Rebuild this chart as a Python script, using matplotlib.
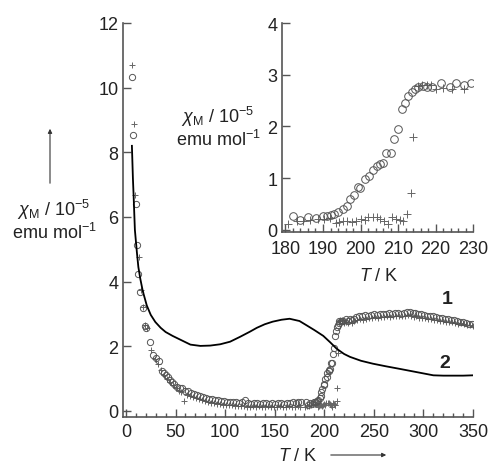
import numpy as np
import matplotlib
matplotlib.use("Agg")
import matplotlib.pyplot as plt
from matplotlib.ticker import MultipleLocator

plt.rcParams['font.family'] = ['Liberation Sans', 'DejaVu Sans']
plt.rcParams['mathtext.fontset'] = 'custom'
plt.rcParams['mathtext.rm'] = 'Liberation Sans'
plt.rcParams['mathtext.it'] = 'Liberation Sans:italic'

# ---------------- data ----------------
# compound 2 (solid line)
line_T = [6, 7, 7.7, 9, 11, 12.5, 14.5, 17, 21, 25, 29.6, 35, 40, 47, 53, 65, 75, 85, 95,
          105, 115, 125, 132, 140, 148, 157, 165, 175, 182, 190, 199, 206, 212.6, 220, 226,
          237, 249, 262, 276, 293, 310, 320, 330, 340, 350]
line_chi = [8.2, 7.2, 6.67, 5.6, 4.91, 4.45, 4.08, 3.7, 3.26, 2.97, 2.75, 2.57, 2.44, 2.32, 2.23,
            2.05, 2.01, 2.02, 2.06, 2.14, 2.29, 2.45, 2.57, 2.68, 2.76, 2.82, 2.85, 2.78, 2.65,
            2.5, 2.32, 2.12, 1.92, 1.76, 1.67, 1.55, 1.46, 1.38, 1.3, 1.2, 1.1, 1.09, 1.09, 1.09, 1.1]

# compound 1, open circles: low-T part
circ_low_T = [6.1, 7.0, 10.0, 11.0, 12.5, 14.5, 16.8, 19.5, 20.5, 24.5, 27.5, 30, 33, 36, 38, 40,
              42, 44, 46, 48, 51, 54, 57, 60, 63, 66, 69, 72, 75, 78, 81, 84, 87, 90, 93, 96, 99,
              102, 105, 108, 111, 114, 117, 120, 123, 126, 129, 132, 135, 138, 141, 144, 147, 150,
              153, 156, 159, 162, 165, 168, 171, 174, 177]
circ_low_chi = [10.33, 8.52, 6.41, 5.12, 4.24, 3.67, 3.18, 2.62, 2.55, 2.12, 1.72, 1.65, 1.53, 1.22,
                1.18, 1.1, 1.04, 0.95, 0.9, 0.82, 0.74, 0.7, 0.72, 0.62, 0.6, 0.55, 0.52, 0.5, 0.45,
                0.42, 0.4, 0.38, 0.36, 0.34, 0.33, 0.31, 0.3, 0.28, 0.27, 0.28, 0.26, 0.25, 0.29,
                0.34, 0.24, 0.22, 0.23, 0.24, 0.22, 0.24, 0.23, 0.22, 0.24, 0.22, 0.23, 0.24, 0.22,
                0.25, 0.24, 0.26, 0.25, 0.27, 0.28]
# compound 1, open circles: transition region (also in inset)
circ_mid_T = [181.9, 183.9, 186.1, 188.1, 190.1, 191.1, 192.0, 192.9, 194.0, 195.2, 196.3, 197.2,
              198.2, 199.4, 199.8, 201.1, 202.3, 203.2, 204.3, 205.1, 206.0, 206.9, 208.0, 208.9,
              210.0, 210.9, 211.8, 212.7, 213.6, 214.4, 215.3, 216.5, 217.6, 218.9, 221.5, 223.7,
              225.5, 227.5, 229.5]
circ_mid_chi = [0.26, 0.19, 0.24, 0.22, 0.26, 0.27, 0.28, 0.30, 0.34, 0.40, 0.45, 0.59, 0.67, 0.82,
                0.80, 0.98, 1.04, 1.16, 1.24, 1.27, 1.29, 1.48, 1.48, 1.75, 1.95, 2.33, 2.46, 2.59,
                2.67, 2.72, 2.77, 2.79, 2.77, 2.77, 2.85, 2.77, 2.85, 2.80, 2.84]
# compound 1, open circles: high-T part
circ_high_T = [232, 235, 238, 241, 244, 247, 250, 253, 256, 259, 262, 265, 268, 271, 274, 277, 280,
               283, 286, 289, 292, 295, 298, 301, 304, 307, 310, 313, 316, 319, 322, 325, 328, 331,
               334, 337, 340, 343, 346, 349]
circ_high_chi = [2.9, 2.92, 2.95, 2.97, 2.95, 2.98, 3.0, 2.98, 3.0, 3.01, 3.0, 3.02, 3.0, 3.03, 3.02,
                 3.0, 3.03, 3.05, 3.07, 3.04, 3.03, 3.0, 2.99, 2.96, 2.95, 2.93, 2.92, 2.9, 2.88,
                 2.86, 2.84, 2.83, 2.8, 2.8, 2.78, 2.76, 2.75, 2.73, 2.7, 2.68]

# compound 1, crosses: low-T part
plus_low_T = [6, 7.7, 9.3, 12.8, 15, 17, 19.5, 21, 25.5, 29, 32, 35, 38, 41, 44, 47, 50, 53, 56,
              59, 62, 65, 68, 71, 74, 77, 80, 83, 86, 89, 92, 95, 98, 101, 104, 107, 110, 113, 116,
              119, 122, 125, 128, 131, 134, 137, 140, 143, 146, 149, 152, 155, 158, 161, 164, 167,
              170, 173, 176]
plus_low_chi = [10.69, 8.89, 6.67, 4.76, 3.75, 3.2, 2.65, 2.55, 1.87, 1.62, 1.45, 1.25, 1.12, 1.0,
                0.88, 0.8, 0.72, 0.62, 0.58, 0.32, 0.5, 0.46, 0.42, 0.4, 0.36, 0.33, 0.3, 0.28,
                0.25, 0.24, 0.22, 0.2, 0.19, 0.18, 0.17, 0.17, 0.16, 0.15, 0.15, 0.14, 0.13, 0.12,
                0.14, 0.13, 0.14, 0.12, 0.13, 0.14, 0.13, 0.12, 0.13, 0.14, 0.12, 0.13, 0.14, 0.12,
                0.13, 0.14, 0.12]
# compound 1, crosses: transition region (also in inset)
plus_mid_T = [180.7, 183.0, 184.7, 186.5, 188.7, 190.3, 191.9, 193.4, 194.3, 195.4, 196.5, 197.7,
              198.8, 200.1, 201.2, 202.1, 203.3, 204.4, 205.3, 206.3, 207.4, 208.3, 209.5, 210.4,
              211.3, 212.4, 213.3, 214.0, 215.3, 216.3, 217.6, 218.7, 220.0, 222.0, 224.4, 227.5]
plus_mid_chi = [0.11, 0.16, 0.16, 0.19, 0.21, 0.20, 0.22, 0.13, 0.14, 0.17, 0.17, 0.15, 0.17, 0.20,
                0.19, 0.24, 0.24, 0.24, 0.20, 0.17, 0.11, 0.24, 0.20, 0.19, 0.17, 0.30, 0.71, 1.79,
                2.78, 2.80, 2.80, 2.80, 2.73, 2.75, 2.72, 2.73]
# compound 1, crosses: high-T part
plus_high_T = [230, 233, 236, 239, 242, 245, 248, 251, 254, 257, 260, 263, 266, 269, 272, 275, 278,
               281, 284, 287, 290, 293, 296, 299, 302, 305, 308, 311, 314, 317, 320, 323, 326, 329,
               332, 335, 338, 341, 344, 347, 350]
plus_high_chi = [2.78, 2.8, 2.83, 2.82, 2.85, 2.86, 2.88, 2.9, 2.87, 2.9, 2.91, 2.93, 2.9, 2.92, 2.95,
                 2.93, 2.92, 2.94, 2.96, 2.93, 2.9, 2.92, 2.88, 2.86, 2.87, 2.84, 2.85, 2.82, 2.8,
                 2.78, 2.79, 2.76, 2.74, 2.75, 2.72, 2.7, 2.71, 2.68, 2.67, 2.65, 2.63]

main_xticks = [0, 50, 100, 150, 200, 250, 300, 350]
main_yticks = [0, 2, 4, 6, 8, 10, 12]
inset_xticks = [180, 190, 200, 210, 220, 230]
inset_yticks = [0, 1, 2, 3, 4]

ylabel_text = r'$\chi_{\mathrm{M}}$ / 10$^{-5}$' + '\n' + r'emu mol$^{-1}$'
xlabel_text = r'$T$ / K'

# ---------------- figure ----------------
spine_col = '#555555'
text_col = '#222222'
fs = 13
fig = plt.figure(figsize=(4.89, 4.64), dpi=100)

ax = fig.add_axes([0.2509, 0.0991, 0.7164, 0.8492])
circ_T = np.concatenate([circ_low_T, circ_mid_T, circ_high_T])
circ_chi = np.concatenate([circ_low_chi, circ_mid_chi, circ_high_chi])
plus_T = np.concatenate([plus_low_T, plus_mid_T, plus_high_T])
plus_chi = np.concatenate([plus_low_chi, plus_mid_chi, plus_high_chi])

ax.plot(plus_T, plus_chi, '+', ms=4.5, mew=0.7, color='#666666', zorder=2)
ax.plot(circ_T, circ_chi, 'o', ms=4.5, mew=0.7, mfc='none', mec='#555555', zorder=3)
ax.plot(line_T, line_chi, '-', lw=1.3, color='black', zorder=4)

ax.set_xlim(-3.3, 350)
ax.set_ylim(-0.19, 12)
ax.set_xticks(main_xticks)
ax.set_yticks(main_yticks)
ax.xaxis.set_minor_locator(MultipleLocator(10))
for s in ['top', 'right']:
    ax.spines[s].set_visible(False)
for s in ['left', 'bottom']:
    ax.spines[s].set_color(spine_col)
    ax.spines[s].set_linewidth(1.2)
ax.tick_params(which='major', direction='in', length=6, width=1, color=spine_col,
               labelcolor=text_col, labelsize=fs, pad=3)
ax.tick_params(axis='x', which='major', pad=4)
ax.tick_params(which='minor', direction='in', length=3, width=1, color=spine_col)

ax.text(446.7 / 489, 1 - 300 / 464, '1', transform=fig.transFigure, fontsize=14,
        fontweight='bold', ha='center', va='center', color=text_col)
ax.text(445 / 489, 1 - 363 / 464, '2', transform=fig.transFigure, fontsize=14,
        fontweight='bold', ha='center', va='center', color=text_col)

# main y label + arrow
fig.text(54 / 489, 1 - 220 / 464, ylabel_text, ha='center', va='center', fontsize=fs,
         color=text_col, linespacing=1.05)
fig.add_artist(matplotlib.patches.FancyArrowPatch((50 / 489, 1 - 187 / 464), (50 / 489, 1 - 127 / 464),
               transform=fig.transFigure, arrowstyle='-|>', mutation_scale=6, lw=0.8, color='#333333'))
# main x label + arrow
fig.text(298 / 489, 1 - 457 / 464, xlabel_text, ha='center', va='center', fontsize=fs, color=text_col)
fig.add_artist(matplotlib.patches.FancyArrowPatch((328 / 489, 1 - 456 / 464), (389 / 489, 1 - 456 / 464),
               transform=fig.transFigure, arrowstyle='-|>', mutation_scale=6, lw=0.8, color='#333333'))

# ---------------- inset ----------------
ins = fig.add_axes([0.576, 0.4978, 0.3918, 0.4502])
ins.plot(plus_mid_T, plus_mid_chi, '+', ms=5.5, mew=0.7, color='#666666', zorder=2)
ins.plot(circ_mid_T, circ_mid_chi, 'o', ms=5.5, mew=0.7, mfc='none', mec='#555555', zorder=3)
ins.set_xlim(179.0, 230)
ins.set_ylim(-0.045, 4)
ins.set_xticks(inset_xticks)
ins.set_yticks(inset_yticks)
ins.xaxis.set_minor_locator(MultipleLocator(2))
for s in ['top', 'right']:
    ins.spines[s].set_visible(False)
for s in ['left', 'bottom']:
    ins.spines[s].set_color(spine_col)
    ins.spines[s].set_linewidth(1.2)
ins.tick_params(which='major', direction='in', length=6, width=1, color=spine_col,
                labelcolor=text_col, labelsize=fs, pad=3)
ins.tick_params(axis='x', which='major', pad=6)
ins.tick_params(which='minor', direction='in', length=3, width=1, color=spine_col)
fig.text(218 / 489, 1 - 127 / 464, ylabel_text, ha='center', va='center', fontsize=fs,
         color=text_col, linespacing=1.05)
fig.text(378.5 / 489, 1 - 277 / 464, xlabel_text, ha='center', va='center', fontsize=fs, color=text_col)

fig.savefig('out.png', dpi=100)
